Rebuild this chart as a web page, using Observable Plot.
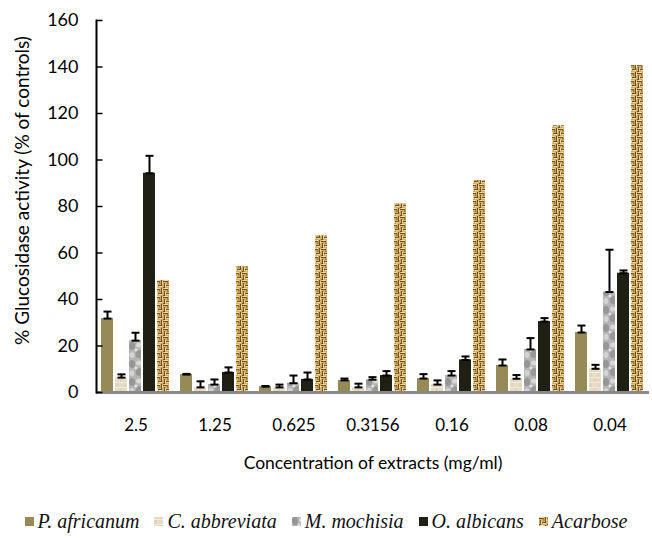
<!DOCTYPE html>
<html>
<head>
<meta charset="utf-8">
<script src="https://cdn.jsdelivr.net/npm/d3@7"></script>
<script src="https://cdn.jsdelivr.net/npm/@observablehq/plot@0.6"></script>
<style>
  html, body { margin: 0; padding: 0; background: #fff; }
  #chart { width: 652px; font-family: Lato, "Open Sans", sans-serif; }
  #legend { display: flex; justify-content: center; align-items: center; gap: 15px; height: 33px;
    font-family: "Liberation Serif", "Times New Roman", serif; font-style: italic; font-size: 20px; color: #111; }
  #legend .item { display: flex; align-items: center; gap: 4px; }
  #legend svg { display: block; }
</style>
</head>
<body>
<svg width="0" height="0" style="position:absolute">
  <defs>
    <pattern id="pat-cab" patternUnits="userSpaceOnUse" width="8" height="10">
      <rect width="8" height="10" fill="#e6dcc5"/>
      <path d="M0 2.5h8 M0 7.5h8" stroke="#f1ebdd" stroke-width="1"/>
      <path d="M2 3v4 M6 8v2 M6 0v2" stroke="#d8ccb2" stroke-width="1"/>
    </pattern>
    <pattern id="pat-mmo" patternUnits="userSpaceOnUse" width="14" height="18">
      <rect width="14" height="18" fill="#b5b5b5"/>
      <ellipse cx="3" cy="4" rx="3" ry="4" fill="#8f8f8f" opacity="0.8"/>
      <ellipse cx="10" cy="12" rx="3.5" ry="4" fill="#919191" opacity="0.8"/>
      <ellipse cx="10" cy="3" rx="3" ry="2.5" fill="#dcdcdc" opacity="0.9"/>
      <ellipse cx="3" cy="13" rx="2.5" ry="3" fill="#d6d6d6" opacity="0.9"/>
      <ellipse cx="7" cy="8" rx="1.5" ry="1.5" fill="#eeeeee" opacity="0.8"/>
      <ellipse cx="13" cy="17" rx="1.5" ry="1.5" fill="#7a7a7a" opacity="0.7"/>
    </pattern>
    <pattern id="pat-aca" patternUnits="userSpaceOnUse" width="8" height="8">
      <rect width="8" height="8" fill="#cfae6c"/>
      <path d="M0 1.5h5 M6.5 0v5 M1.5 3v4 M3 5.5h4 M0 7.5h2 M4 3h1.5" stroke="#74521f" stroke-width="1"/>
      <path d="M1 0.5h4 M7.5 1v3 M2.5 4v3 M4 6.5h3" stroke="#f0d8a0" stroke-width="1"/>
    </pattern>
  </defs>
</svg>
<div id="chart"></div>
<script>
// ---- data ----
const concentrations = ["2.5", "1.25", "0.625", "0.3156", "0.16", "0.08", "0.04"];
const seriesNames = ["P. africanum", "C. abbreviata", "M. mochisia", "O. albicans", "Acarbose"];
const pAfricanum     = [31.8, 7.7, 2.5, 5.2, 6.0, 11.6, 25.8];
const pAfricanumErr  = [3.0, 0.3, 0.3, 0.8, 1.9, 2.6, 3.0];
const cAbbreviata    = [6.4, 2.2, 2.2, 2.2, 3.4, 5.9, 10.2];
const cAbbreviataErr = [1.4, 2.6, 1.2, 1.6, 1.8, 1.6, 1.7];
const mMochisia      = [22.3, 3.4, 4.0, 5.5, 7.3, 18.5, 43.2];
const mMochisiaErr   = [3.4, 2.2, 3.3, 1.1, 1.9, 4.9, 18.2];
const oAlbicans      = [94.3, 8.6, 5.6, 7.3, 14.0, 30.5, 51.3];
const oAlbicansErr   = [7.5, 2.2, 3.0, 1.9, 1.5, 1.5, 1.2];
const acarbose       = [48.2, 54.2, 67.4, 81.1, 91.2, 114.7, 140.6];
const yTicks = [0, 20, 40, 60, 80, 100, 120, 140, 160];
const yLabel = "% Glucosidase activity (% of controls)";
const xLabel = "Concentration of extracts (mg/ml)";

const seriesValues = [pAfricanum, cAbbreviata, mMochisia, oAlbicans, acarbose];
const seriesErrs = [pAfricanumErr, cAbbreviataErr, mMochisiaErr, oAlbicansErr, null];
const fills = ["#968b56", "url(#pat-cab)", "url(#pat-mmo)", "#201f14", "url(#pat-aca)"];

const data = concentrations.flatMap((c, i) => seriesNames.map((s, j) => ({
  conc: c, series: s, value: seriesValues[j][i], err: seriesErrs[j] ? seriesErrs[j][i] : null
})));
const errData = data.filter(d => d.err != null);

const capSymbol = { draw(ctx, size) { const r = Math.sqrt(size / Math.PI); ctx.moveTo(-r, 0); ctx.lineTo(r, 0); } };
const tickRight = { draw(ctx, size) { const r = Math.sqrt(size / Math.PI); ctx.moveTo(0, 0); ctx.lineTo(r, 0); } };

const chart = Plot.plot({
  width: 652,
  height: 505,
  marginLeft: 93,
  marginRight: 0,
  marginTop: 20,
  marginBottom: 113,
  style: { fontFamily: "Lato, 'Open Sans', sans-serif", background: "#fff", color: "#000" },
  fx: { domain: concentrations, padding: 0 },
  x: { domain: seriesNames, paddingInner: 0.133, paddingOuter: 0.233, axis: null },
  y: { domain: [0, 160] },
  color: { domain: seriesNames, range: fills },
  marks: [
    Plot.barY(data, { fx: "conc", x: "series", y: "value", fill: "series" }),
    Plot.ruleX(errData, { fx: "conc", x: "series", y1: "value", y2: d => d.value + d.err, stroke: "#000", strokeWidth: 2 }),
    Plot.dot(errData, { fx: "conc", x: "series", y: d => d.value + d.err, symbol: capSymbol, r: 4, fill: "none", stroke: "#000", strokeWidth: 2 }),
    Plot.dot(errData, { fx: "conc", x: "series", y: "value", symbol: capSymbol, r: 4, fill: "none", stroke: "#000", strokeWidth: 2 }),
    Plot.ruleY([0], { stroke: "#888", strokeWidth: 3 }),
    Plot.frame({ anchor: "left", facetAnchor: "left", stroke: "#000", strokeWidth: 2 }),
    Plot.dot(yTicks, { y: d => d, frameAnchor: "left", facetAnchor: "left", symbol: tickRight, r: 6, fill: "none", stroke: "#000", strokeWidth: 1.5 }),
    Plot.axisY(yTicks, { tickSize: 0, tickPadding: 18, fontSize: 18, label: null }),
    Plot.text([yLabel], { text: d => d, frameAnchor: "left", facetAnchor: "left", textAnchor: "middle", lineAnchor: "middle", rotate: -90, dx: -74, dy: -16, fontSize: 19, fill: "#000" }),
    Plot.axisFx({ anchor: "bottom", tickSize: 0, tickPadding: 26, fontSize: 17, label: null }),
    Plot.text([xLabel], { text: d => d, frameAnchor: "bottom", textAnchor: "middle", fontSize: 17.5, dy: 76, fill: "#000", facet: "super" })
  ]
});
document.getElementById("chart").appendChild(chart);

// legend
const legend = document.createElement("div");
legend.id = "legend";
seriesNames.forEach((s, j) => {
  const item = document.createElement("div");
  item.className = "item";
  item.innerHTML = `<svg width="9" height="9"><rect width="9" height="9" fill="${fills[j]}"/></svg><span>${s}</span>`;
  legend.appendChild(item);
});
document.getElementById("chart").appendChild(legend);
</script>
</body>
</html>
